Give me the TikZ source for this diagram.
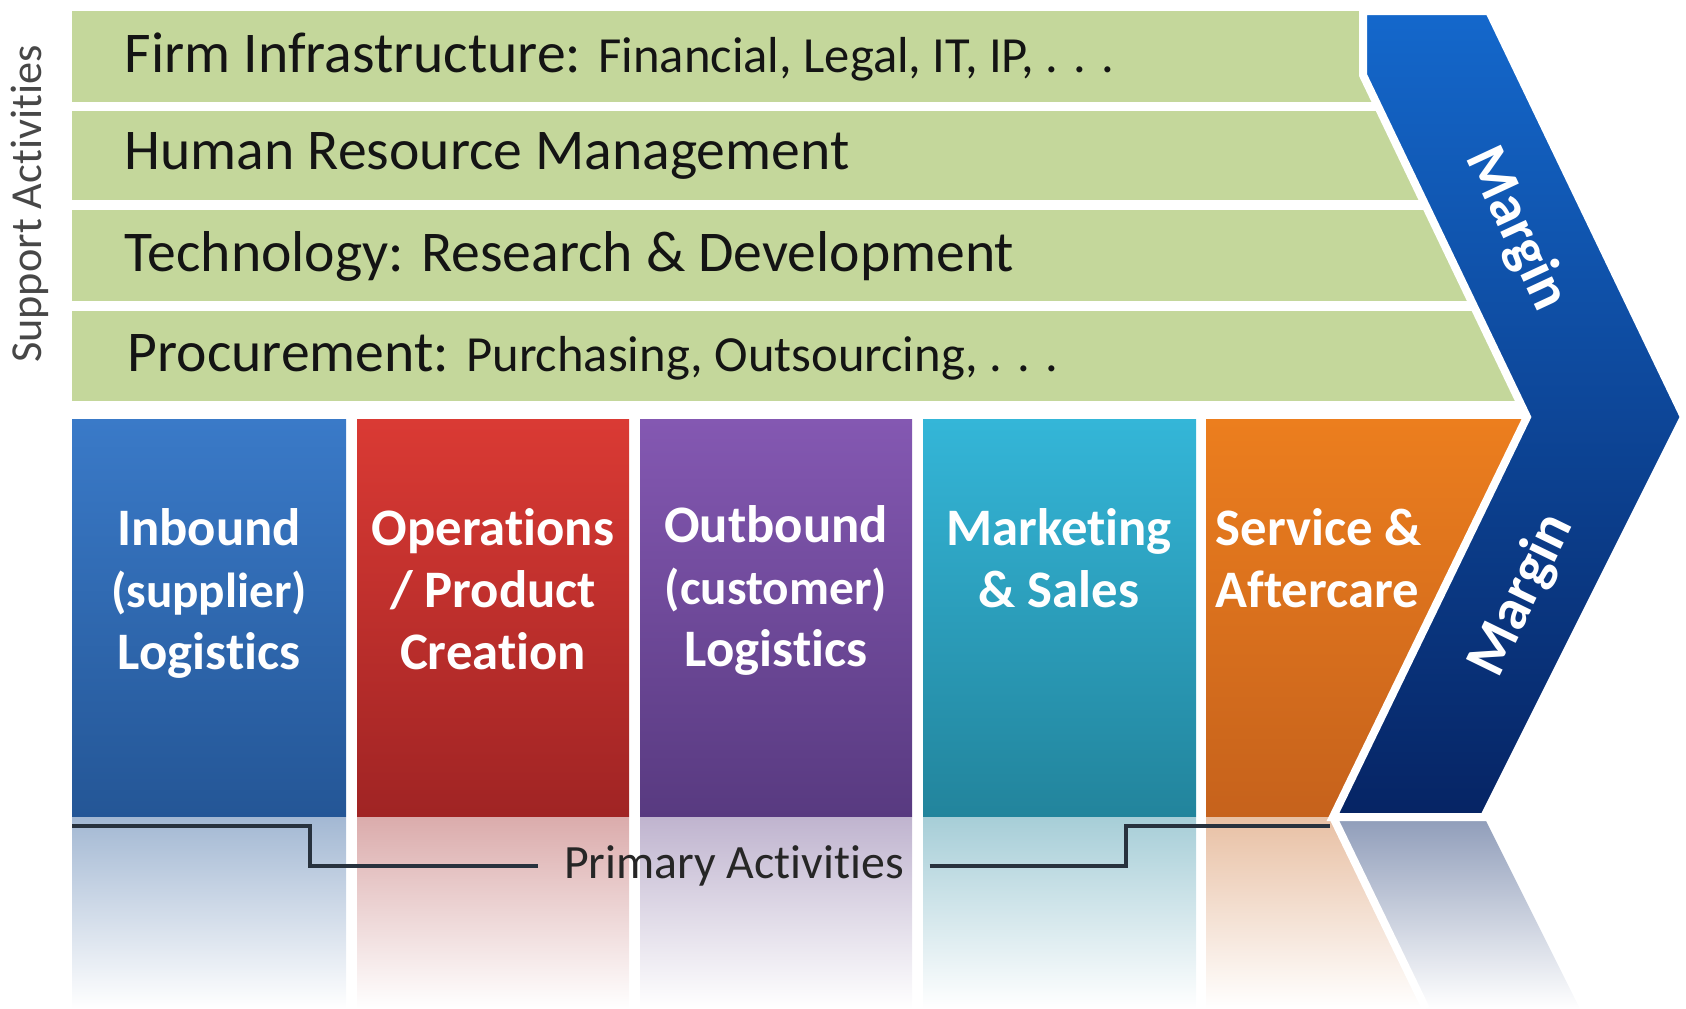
\documentclass[tikz,border=0pt]{standalone}
\usepackage{fontspec}
\setmainfont{Carlito}[Ligatures=NoCommon]
\usepackage{xcolor}
\usepackage{tikz}

\definecolor{barGreen}{RGB}{196,215,155}
\definecolor{inbTop}{RGB}{58,122,200}
\definecolor{inbBot}{RGB}{36,86,150}
\definecolor{opsTop}{RGB}{218,58,52}
\definecolor{opsBot}{RGB}{160,36,36}
\definecolor{outTop}{RGB}{132,88,178}
\definecolor{outBot}{RGB}{88,58,128}
\definecolor{mktTop}{RGB}{52,182,216}
\definecolor{mktBot}{RGB}{34,132,156}
\definecolor{srvTop}{RGB}{236,126,30}
\definecolor{srvBot}{RGB}{198,98,28}
\definecolor{marTop}{RGB}{20,104,204}
\definecolor{marMid}{RGB}{10,62,150}
\definecolor{marBot}{RGB}{6,36,100}
\definecolor{bracket}{RGB}{40,50,62}

\begin{document}
\begin{tikzpicture}[
    x=0.1mm, y=-0.1mm,
    lbl/.style={font=\fontsize{16.4}{19}\selectfont, text=black!92, anchor=west, inner sep=0pt},
    act/.style={font=\fontsize{15}{17.6}\selectfont\bfseries, text=white, align=center, anchor=north, inner sep=0pt},
    mar/.style={font=\fontsize{16.5}{19}\selectfont\bfseries, text=white, inner sep=0pt},
    conn/.style={draw=bracket, line width=0.35mm}
]
\useasboundingbox (0,0) rectangle (1686,1009);

% Column positions
\def\colA{72}  \def\colB{357} \def\colC{640} \def\colD{923} \def\colE{1206}
\def\yTop{419} \def\yBot{817}

% === Support bars and primary boxes, cut by the chevron ===
\begin{scope}
\clip (0,0) -- (1363,0) -- (1363,75) -- (1527,417) -- (1332,817) -- (0,817) -- cycle;
\fill[barGreen] (\colA,11) rectangle (1700,102);
\fill[barGreen] (\colA,111) rectangle (1700,200);
\fill[barGreen] (\colA,210) rectangle (1700,301);
\fill[barGreen] (\colA,311) rectangle (1700,401);

\shade[top color=inbTop, bottom color=inbBot] (\colA,\yTop) rectangle (346,\yBot);
\shade[top color=opsTop, bottom color=opsBot] (\colB,\yTop) rectangle (629,\yBot);
\shade[top color=outTop, bottom color=outBot] (\colC,\yTop) rectangle (912,\yBot);
\shade[top color=mktTop, bottom color=mktBot] (\colD,\yTop) rectangle (1196,\yBot);
\shade[top color=srvTop, bottom color=srvBot] (\colE,\yTop) rectangle (1600,\yBot);
\end{scope}

% === Reflections ===
\shade[top color=inbBot!42!white, bottom color=white] (\colA,\yBot) rectangle (346,1009);
\shade[top color=opsBot!38!white, bottom color=white] (\colB,\yBot) rectangle (629,1009);
\shade[top color=outBot!38!white, bottom color=white] (\colC,\yBot) rectangle (912,1009);
\shade[top color=mktBot!40!white, bottom color=white] (\colD,\yBot) rectangle (1196,1009);
\shade[top color=srvBot!40!white, bottom color=white] (\colE,\yBot) -- (1333,\yBot) -- (1426,1009) -- (\colE,1009) -- cycle;
\shade[top color=marBot!45!white, bottom color=white] (1333,\yBot) -- (1484,\yBot) -- (1580,1009) -- (1426,1009) -- cycle;
\draw[white, line width=0.8mm] (1333,\yBot) -- (1426,1009);

% === Margin chevron ===
\shadedraw[top color=marTop, middle color=marMid, bottom color=marBot, draw=white, line width=0.8mm]
  (1363,11) -- (1489,11) -- (1684,417) -- (1484,817) -- (1333,817) -- (1527,417) -- (1363,75) -- cycle;
\node[mar, rotate=-65] (marUp) at (1516,229) {Margin};
\node[mar, rotate=64] (marLo) at (1522,595) {Margin};

% === Support activities ===
\node[lbl] (infra) at (124,57) {Firm Infrastructure: {\fontsize{14.4}{17}\selectfont Financial, Legal, IT, IP, . . .}};
\node[lbl] (hrm) at (124,156) {Human Resource Management};
\node[lbl] (tech) at (124,256) {Technology: Research \& Development};
\node[lbl] (proc) at (127,357) {Procurement: {\fontsize{14.4}{17}\selectfont Purchasing, Outsourcing, . . .}};
\node[rotate=90, font=\fontsize{12.6}{15}\selectfont, text=black!72] (supp) at (30,204) {Support Activities};

% === Primary activities ===
\node[act] (inb) at (209,508) {Inbound\\{\fontsize{14}{17.6}\selectfont(supplier)}\\Logistics};
\node[act] (ops) at (493,508) {Operations\\/ Product\\Creation};
\node[act] (outb) at (776,505) {Outbound\\{\fontsize{14}{17.6}\selectfont(customer)}\\Logistics};
\node[act] (mkt) at (1059,508) {Marketing\\\& Sales};
\node[act, anchor=north west, align=left] (srv) at (1215,508) {Service \&\\Aftercare};

% Bracket under the boxes
\coordinate (bL) at (\colA,826);
\coordinate (bR) at (1330,826);
\node[font=\fontsize{13.6}{16}\selectfont, text=black!85, inner xsep=2.5mm] (prim) at (734,866) {Primary Activities};
\draw[conn] (bL) -- (310,826) |- (prim.west);
\draw[conn] (prim.east) -| (1126,826) -- (bR);
\end{tikzpicture}
\end{document}
